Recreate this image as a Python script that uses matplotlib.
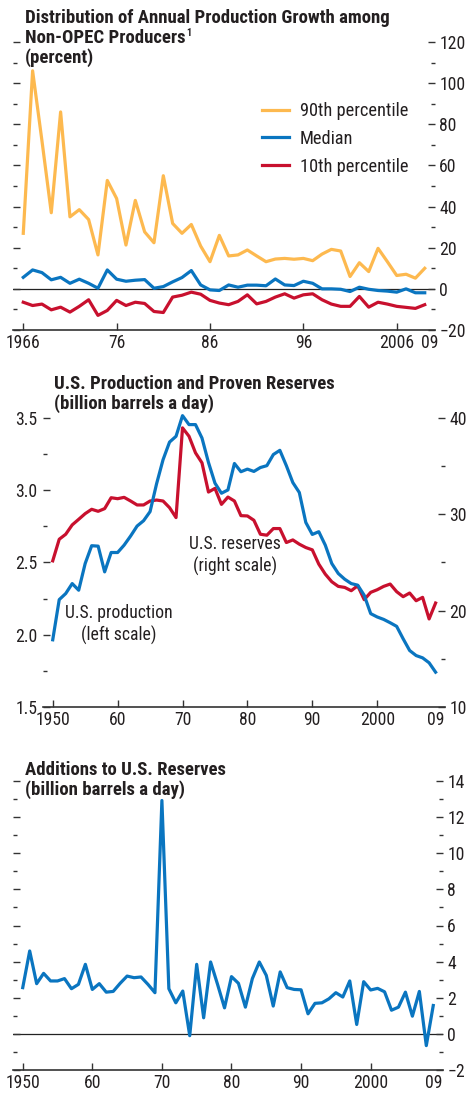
import matplotlib
matplotlib.use("Agg")
import matplotlib.pyplot as plt
from matplotlib import font_manager as fm
import numpy as np

# ---------------- Data ----------------
years1 = list(range(1966, 2010))
p90 = [27, 106, 72, 37, 86, 35, 38.5, 33.7, 16.5, 52.7, 43.9, 21.3, 43, 27.7, 22.4,
       55, 31.8, 27, 31.3, 20.8, 13.2, 26, 16, 16.5, 18.9, 16, 13.2, 14.5, 14.8, 14.4,
       14.8, 13.7, 16.9, 19.2, 18.4, 6, 12.7, 8.4, 19.7, 13.2, 6.5, 7.1, 5.2, 10]
median = [5.6, 9.2, 7.9, 4.4, 5.6, 2.7, 4.7, 2.7, 0.3, 9.2, 4.7, 3.7, 4.2, 4.5, 0.3,
          1.1, 3.4, 5.5, 8.9, 1.9, -0.5, -0.8, 1.9, 0.8, 1.8, 1.8, 1.5, 4.8, 1.9, 1.6,
          3.7, 2.7, 0.0, 0.0, -0.2, -1.3, 0.8, -0.2, -0.8, -1.1, -1.6, 0.0, -1.9, -1.9]
p10 = [-6.5, -8.1, -7.4, -10.2, -8.9, -11.3, -8.5, -5.3, -12.9, -10.5, -5.6, -8.1, -6.5,
       -7.1, -11.0, -11.5, -4.0, -3.1, -1.6, -2.6, -5.6, -6.9, -7.7, -6.1, -2.9, -7.3,
       -6.1, -4.0, -2.4, -4.5, -2.9, -2.4, -5.3, -7.4, -8.5, -8.5, -3.7, -8.9, -6.5,
       -7.4, -8.5, -9.0, -9.5, -7.7]

years2 = list(range(1950, 2010))
production = [1.965, 2.243, 2.285, 2.354, 2.308, 2.493, 2.616, 2.613, 2.435, 2.569,
              2.569, 2.62, 2.683, 2.752, 2.789, 2.852, 3.044, 3.211, 3.333, 3.373,
              3.516, 3.454, 3.454, 3.361, 3.192, 3.049, 2.979, 3.002, 3.185, 3.128,
              3.146, 3.13, 3.157, 3.17, 3.247, 3.276, 3.17, 3.053, 2.984, 2.777,
              2.694, 2.713, 2.62, 2.493, 2.424, 2.384, 2.354, 2.343, 2.273, 2.146,
              2.123, 2.106, 2.083, 2.058, 1.972, 1.891, 1.856, 1.84, 1.806, 1.741]
reserves = [25.17, 27.41, 27.93, 28.9, 29.48, 30.07, 30.52, 30.31, 30.59, 31.72,
            31.62, 31.76, 31.38, 30.97, 30.97, 31.38, 31.48, 31.38, 30.69, 29.66,
            38.97, 38.1, 36.38, 35.34, 32.31, 32.69, 31.03, 31.79, 31.38, 29.86,
            29.83, 29.38, 27.93, 27.83, 28.52, 28.52, 27.07, 27.34, 26.9, 26.55,
            26.31, 24.83, 23.79, 23.0, 22.52, 22.41, 22.07, 22.59, 21.14, 21.9,
            22.17, 22.52, 22.76, 21.97, 21.45, 21.83, 21.03, 21.38, 19.14, 20.79]

years3 = list(range(1950, 2010))
additions = [2.56, 4.59, 2.78, 3.35, 2.93, 2.93, 3.06, 2.5, 2.74, 3.85,
             2.46, 2.78, 2.31, 2.35, 2.8, 3.2, 3.11, 3.15, 2.74, 2.28,
             12.92, 2.5, 1.72, 2.37, -0.1, 3.85, 0.89, 3.98, 2.74, 1.44,
             3.17, 2.8, 1.48, 3.06, 3.98, 3.24, 1.54, 3.43, 2.56, 2.46,
             2.44, 1.11, 1.69, 1.72, 1.94, 2.28, 2.04, 2.93, 0.52, 2.89,
             2.43, 2.52, 2.33, 1.31, 1.48, 2.31, 0.98, 2.35, -0.65, 1.57]

xt1 = [1966, 1976, 1986, 1996, 2006, 2009.5]
xl1 = ['1966', '76', '86', '96', '2006', '09']
xt2 = [1950, 1960, 1970, 1980, 1990, 2000, 2009]
xl2 = ['1950', '60', '70', '80', '90', '2000', '09']

# ---------------- Font ----------------
available = {f.name for f in fm.fontManager.ttflist}
candidates = ['Roboto Condensed', 'Fira Sans Condensed', 'Archivo Narrow',
              'PT Sans Narrow', 'Liberation Sans Narrow', 'Open Sans Condensed',
              'Barlow Condensed', 'IBM Plex Sans Condensed']
NARROW = next((c for c in candidates if c in available), None)
if NARROW:
    FONT = [NARROW, 'DejaVu Sans']
    TS = 12.7
    LS = 13.2
else:
    FONT = ['DejaVu Sans']
    TS = 10
    LS = 10.5
plt.rcParams['font.family'] = FONT
HS = 13

TXT = '#231f20'
YEL = '#fdb94f'
BLU = '#0a75c0'
RED = '#c8102e'
LW = 2.3

W, H = 474, 1096
fig = plt.figure(figsize=(W / 100, H / 100), dpi=100)


def rect(l, t, r, b):
    return [l / W, 1 - b / H, (r - l) / W, (b - t) / H]


def style(ax, left_labels=False, right_labels=True):
    for s in ('top', 'left', 'right'):
        ax.spines[s].set_visible(False)
    ax.spines['bottom'].set_color('#333333')
    ax.spines['bottom'].set_linewidth(1.2)
    ax.tick_params(axis='y', which='major', direction='in', length=5, width=1,
                   color='#333333', left=True, right=True,
                   labelleft=left_labels, labelright=right_labels,
                   labelsize=TS, labelcolor=TXT, pad=3)
    ax.tick_params(axis='y', which='minor', direction='in', length=2.6, width=1,
                   color='#333333', left=True, right=True)
    ax.tick_params(axis='x', which='major', direction='in', length=5, width=1,
                   color='#333333', labelsize=TS, labelcolor=TXT, pad=3)
    ax.tick_params(axis='x', which='minor', bottom=False)


# ---------------- Panel 1 ----------------
ax1 = fig.add_axes(rect(13, 42, 435, 330))
ax1.plot(years1, p90, color=YEL, lw=LW, label='90th percentile')
ax1.plot(years1, median, color=BLU, lw=LW, label='Median')
ax1.plot(years1, p10, color=RED, lw=LW, label='10th percentile')
ax1.axhline(0, color='#222222', lw=0.9, zorder=1)
ax1.set_xlim(1964.9, 2010.1)
ax1.set_ylim(-20, 120)
ax1.set_yticks(np.arange(-20, 121, 20))
ax1.set_yticks(np.arange(-10, 120, 20), minor=True)
ax1.set_xticks(xt1)
ax1.set_xticklabels(xl1)
style(ax1)
ax1.xaxis.get_major_ticks()[-1].tick1line.set_visible(False)
leg = ax1.legend(loc='upper left', bbox_to_anchor=(262 / W, 1 - 102 / H),
                 bbox_transform=fig.transFigure, frameon=False, fontsize=LS,
                 handlelength=1.45, handletextpad=0.6, labelspacing=0.54,
                 borderaxespad=0, borderpad=0)
for t in leg.get_texts():
    t.set_color(TXT)

# ---------------- Panel 2 ----------------
ax2 = fig.add_axes(rect(43, 403.5, 445, 707))
ax2.plot(years2, production, color=BLU, lw=LW, zorder=3)
ax2.set_xlim(1948.5, 2010.45)
ax2.set_ylim(1.5, 3.6)
ax2.set_yticks([1.5, 2.0, 2.5, 3.0, 3.5])
ax2.set_yticklabels(['1.5', '2.0', '2.5', '3.0', '3.5'])
ax2.set_yticks([1.75, 2.25, 2.75, 3.25], minor=True)
ax2.set_xticks(xt2)
ax2.set_xticklabels(xl2)
style(ax2, left_labels=True, right_labels=False)
ax2.tick_params(axis='y', which='major', right=False, pad=4)
ax2.tick_params(axis='y', which='minor', right=False)
ax2.xaxis.get_major_ticks()[-1].tick1line.set_visible(False)
ax2r = ax2.twinx()
ax2r.plot(years2, reserves, color=RED, lw=LW, zorder=2)
ax2r.set_ylim(10, 10 + (3.6 - 1.5) * 15)
ax2r.set_yticks([10, 20, 30, 40])
ax2r.set_yticks([15, 25, 35], minor=True)
for s in ax2r.spines.values():
    s.set_visible(False)
ax2r.tick_params(axis='y', which='major', direction='in', length=5, width=1,
                 color='#333333', left=False, right=True, labelleft=False,
                 labelright=True, labelsize=TS, labelcolor=TXT, pad=3)
ax2r.tick_params(axis='y', which='minor', direction='in', length=2.6, width=1,
                 color='#333333', left=False, right=True)
ax2.set_zorder(ax2r.get_zorder() + 1)
ax2.patch.set_visible(False)
AS = TS
fig.text(235 / W, 1 - 549 / H, 'U.S. reserves', ha='center', va='baseline',
         fontsize=AS, color=TXT)
fig.text(235 / W, 1 - 572 / H, '(right scale)', ha='center', va='baseline',
         fontsize=AS, color=TXT)
fig.text(119 / W, 1 - 618 / H, 'U.S. production', ha='center', va='baseline',
         fontsize=AS, color=TXT)
fig.text(119 / W, 1 - 641 / H, '(left scale)', ha='center', va='baseline',
         fontsize=AS, color=TXT)

# ---------------- Panel 3 ----------------
ax3 = fig.add_axes(rect(13, 781, 443, 1070))
ax3.plot(years3, additions, color=BLU, lw=LW)
ax3.axhline(0, color='#222222', lw=0.9, zorder=1)
ax3.set_xlim(1948.6, 2010.4)
ax3.set_ylim(-2, 14)
ax3.set_yticks(np.arange(-2, 15, 2))
ax3.set_yticks(np.arange(-1, 14, 2), minor=True)
ax3.set_xticks(xt2)
ax3.set_xticklabels(xl2)
style(ax3)
ax3.xaxis.get_major_ticks()[-1].tick1line.set_visible(False)

# ---------------- Headings ----------------
headings = [
    (25, 23, 'Distribution of Annual Production Growth among'),
    (25, 43, 'Non-OPEC Producers'),
    (25, 63, '(percent)'),
    (54, 389, 'U.S. Production and Proven Reserves'),
    (54, 409, '(billion barrels a day)'),
    (25, 775, 'Additions to U.S. Reserves'),
    (25, 795, '(billion barrels a day)'),
]
htexts = [fig.text(x / W, 1 - y / H, s, ha='left', va='baseline', fontsize=HS,
                   fontweight='bold', color=TXT) for x, y, s in headings]
fig.canvas.draw()
w0 = htexts[0].get_window_extent().width
scale = 363.0 / w0
for t in htexts:
    t.set_fontsize(HS * scale)
fig.canvas.draw()
bb = htexts[1].get_window_extent()
fig.text((bb.x1 + 1) / W, 1 - 35.5 / H, '1', ha='left', va='baseline',
         fontsize=7 * scale, fontweight='bold', color=TXT)

fig.savefig('out.png', dpi=100)
